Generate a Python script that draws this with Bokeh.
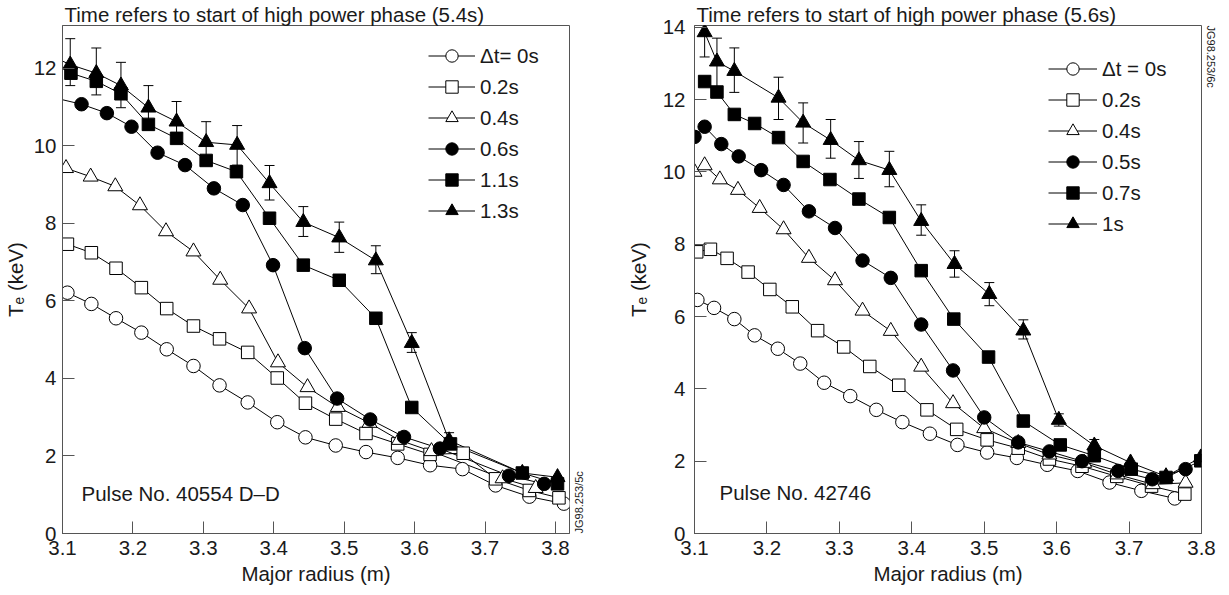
import math
from bokeh.plotting import figure
from bokeh.models import FixedTicker, Label, Legend, LegendItem, Range1d, LinearAxis
from bokeh.layouts import row
from bokeh.embed import file_html
from bokeh.resources import INLINE

nan = float("nan")

# ---------------- data: left panel (Pulse No. 40554 D-D) ----------------
L_LABELS = ["Δt= 0s", "0.2s", "0.4s", "0.6s", "1.1s", "1.3s"]
L_X_00 = [3.107, 3.141, 3.176, 3.212, 3.248, 3.286, 3.323, 3.363, 3.405, 3.445, 3.488, 3.531, 3.576, 3.622, 3.668, 3.715, 3.763, 3.812]
L_Y_00 = [6.21, 5.92, 5.55, 5.18, 4.75, 4.32, 3.82, 3.38, 2.87, 2.48, 2.27, 2.10, 1.95, 1.76, 1.66, 1.24, 0.95, 0.77]
L_X_02 = [3.107, 3.141, 3.176, 3.212, 3.248, 3.286, 3.323, 3.363, 3.405, 3.445, 3.488, 3.531, 3.576, 3.622, 3.669, 3.715, 3.763, 3.805]
L_Y_02 = [7.46, 7.24, 6.84, 6.34, 5.80, 5.35, 5.02, 4.67, 4.01, 3.36, 2.95, 2.58, 2.31, 2.04, 2.07, 1.41, 1.11, 0.92]
L_X_04 = [3.105, 3.140, 3.175, 3.210, 3.247, 3.286, 3.324, 3.365, 3.406, 3.448, 3.491, 3.536, 3.578, 3.624, 3.725, 3.772]
L_Y_04 = [9.42, 9.20, 8.95, 8.46, 7.79, 7.27, 6.54, 5.80, 4.41, 3.77, 3.26, 2.85, 2.41, 2.12, 1.42, 1.17]
L_X_06 = [3.085, 3.127, 3.163, 3.198, 3.235, 3.274, 3.315, 3.356, 3.399, 3.444, 3.490, 3.537, 3.585, 3.636, 3.734, 3.784]
L_Y_06 = [11.25, 11.07, 10.84, 10.49, 9.82, 9.50, 8.90, 8.47, 6.92, 4.78, 3.48, 2.94, 2.49, 2.19, 1.49, 1.28]
L_X_11 = [3.080, 3.112, 3.148, 3.183, 3.222, 3.262, 3.304, 3.347, 3.394, 3.442, 3.493, 3.545, 3.596, 3.651, 3.753, 3.803]
L_Y_11 = [12.20, 11.87, 11.66, 11.34, 10.55, 10.19, 9.62, 9.33, 8.13, 6.92, 6.53, 5.55, 3.25, 2.31, 1.56, 1.28]
L_X_13 = [3.080, 3.111, 3.148, 3.183, 3.222, 3.262, 3.304, 3.348, 3.394, 3.442, 3.493, 3.545, 3.596, 3.649, 3.753, 3.803]
L_Y_13 = [12.35, 12.09, 11.87, 11.55, 10.98, 10.62, 10.09, 10.02, 9.03, 8.03, 7.63, 7.04, 4.91, 2.40, 1.56, 1.45]
L_ERR_HI = [nan, 12.76, 12.52, 12.15, 11.55, 11.14, 10.62, 10.52, 9.49, 8.43, 8.03, 7.42, 5.18, 2.60, nan, nan]
L_ERR_LO = [nan, 11.55, 11.31, 10.98, 10.42, 10.10, 9.60, 9.50, 8.60, 7.66, 7.25, 6.70, 4.67, 2.20, nan, nan]

# ---------------- data: right panel (Pulse No. 42746) ----------------
R_LABELS = ["Δt = 0s", "0.2s", "0.4s", "0.5s", "0.7s", "1s"]
R_X_00 = [3.104, 3.127, 3.155, 3.183, 3.215, 3.246, 3.279, 3.315, 3.351, 3.387, 3.425, 3.463, 3.504, 3.545, 3.587, 3.629, 3.673, 3.717, 3.763]
R_Y_00 = [6.46, 6.24, 5.93, 5.48, 5.11, 4.70, 4.17, 3.80, 3.42, 3.08, 2.76, 2.45, 2.24, 2.09, 1.90, 1.73, 1.41, 1.18, 0.97]
R_X_02 = [3.103, 3.122, 3.145, 3.174, 3.204, 3.235, 3.270, 3.306, 3.342, 3.382, 3.421, 3.462, 3.504, 3.547, 3.590, 3.635, 3.683, 3.731, 3.777]
R_Y_02 = [7.79, 7.86, 7.61, 7.23, 6.75, 6.27, 5.61, 5.16, 4.62, 4.10, 3.42, 2.88, 2.59, 2.36, 2.06, 1.86, 1.58, 1.31, 1.09]
R_X_04 = [3.100, 3.114, 3.135, 3.160, 3.190, 3.223, 3.258, 3.294, 3.332, 3.371, 3.413, 3.457, 3.500, 3.547, 3.590, 3.638, 3.684, 3.733, 3.778]
R_Y_04 = [10.00, 10.18, 9.79, 9.50, 9.00, 8.41, 7.62, 7.00, 6.16, 5.60, 4.61, 3.60, 2.91, 2.50, 2.18, 1.95, 1.63, 1.36, 1.40]
R_X_05 = [3.100, 3.114, 3.137, 3.161, 3.192, 3.223, 3.258, 3.294, 3.332, 3.371, 3.413, 3.457, 3.500, 3.547, 3.590, 3.635, 3.685, 3.732, 3.778]
R_Y_05 = [10.97, 11.25, 10.77, 10.43, 10.05, 9.64, 8.91, 8.45, 7.55, 7.07, 5.78, 4.51, 3.21, 2.52, 2.27, 2.00, 1.73, 1.50, 1.78]
R_X_07 = [3.114, 3.131, 3.155, 3.183, 3.216, 3.250, 3.287, 3.327, 3.369, 3.413, 3.458, 3.506, 3.554, 3.605, 3.652, 3.703, 3.751, 3.799]
R_Y_07 = [12.50, 12.21, 11.59, 11.34, 10.95, 10.29, 9.79, 9.25, 8.74, 7.27, 5.93, 4.88, 3.11, 2.45, 2.15, 1.78, 1.55, 2.01]
R_X_10 = [3.114, 3.131, 3.155, 3.216, 3.250, 3.288, 3.327, 3.369, 3.413, 3.459, 3.507, 3.554, 3.603, 3.652, 3.702, 3.751, 3.799]
R_Y_10 = [13.86, 13.05, 12.79, 12.05, 11.36, 10.88, 10.32, 10.05, 8.64, 7.45, 6.62, 5.61, 3.14, 2.43, 1.96, 1.58, 2.10]
R_ERR_HI = [14.54, 13.70, 13.43, 12.62, 11.91, 11.45, 10.84, 10.57, 9.09, 7.82, 6.94, 5.91, 3.31, 2.60, nan, nan, nan]
R_ERR_LO = [13.18, 12.25, 12.20, 11.45, 10.80, 10.38, 9.82, 9.59, 8.25, 7.09, 6.30, 5.38, 2.97, 2.26, nan, nan, nan]

X_TICKS = [3.1, 3.2, 3.3, 3.4, 3.5, 3.6, 3.7, 3.8]
L_Y_TICKS = [0, 2, 4, 6, 8, 10, 12]
R_Y_TICKS = [0, 2, 4, 6, 8, 10, 12, 14]

MARKERS = [("circle", False), ("square", False), ("triangle", False),
           ("circle", True), ("square", True), ("triangle", True)]

FONT = "Liberation Sans"
FS = "20.5px"
TXT = "#1a1a1a"
FRAME = "#555555"
MSIZE = {"circle": 13.5, "square": 12.5, "triangle": 15}


def build(title, labels, series, err, y_end, x_end, pulse, pulse_xy, tag, tag_align,
          tag_angle, legend_xy, glyph_w, y_standoff, ylab_standoff, min_left,
          min_right, yticks):
    p = figure(frame_width=507, frame_height=508,
               x_range=Range1d(3.1, x_end), y_range=Range1d(0, y_end),
               output_backend="svg", toolbar_location=None,
               min_border_left=min_left, min_border_right=min_right,
               min_border_top=22, min_border_bottom=56,
               background_fill_color="white", border_fill_color="white")
    p.title.text = title
    p.title.text_font = FONT
    p.title.text_font_size = FS
    p.title.text_font_style = "normal"
    p.title.text_color = TXT
    p.title.offset = 2
    p.title.standoff = 0
    p.outline_line_color = FRAME
    p.outline_line_width = 1
    p.xgrid.visible = False
    p.ygrid.visible = False

    for ax in (p.xaxis[0], p.yaxis[0]):
        ax.axis_line_color = FRAME
        ax.major_tick_line_color = FRAME
        ax.major_tick_in = 12
        ax.major_tick_out = 0
        ax.minor_tick_line_color = None
        ax.major_label_text_font = FONT
        ax.major_label_text_font_size = FS
        ax.major_label_text_color = TXT
        ax.axis_label_text_font = FONT
        ax.axis_label_text_font_size = FS
        ax.axis_label_text_font_style = "normal"
        ax.axis_label_text_color = TXT
    p.xaxis.ticker = FixedTicker(ticks=X_TICKS)
    p.yaxis.ticker = FixedTicker(ticks=yticks)
    p.xaxis.axis_label = "Major radius (m)"
    p.yaxis.axis_label = "Tₑ (keV)"
    p.xaxis.major_label_standoff = 7
    p.xaxis.axis_label_standoff = 4
    p.yaxis.major_label_standoff = y_standoff
    p.yaxis.axis_label_standoff = ylab_standoff

    # small job tag on the right of the frame, as the label of an empty axis
    tag_axis = LinearAxis(ticker=FixedTicker(ticks=[]), axis_label=tag,
                          axis_line_color=None, major_tick_line_color=None,
                          minor_tick_line_color=None, major_label_standoff=0,
                          axis_label_standoff=9, axis_label_text_font=FONT,
                          axis_label_text_font_size="11px",
                          axis_label_text_font_style="normal",
                          axis_label_text_color=TXT)
    props = tag_axis.properties()
    if "axis_label_orientation" in props:
        tag_axis.axis_label_orientation = tag_angle
    if "axis_label_align" in props:
        tag_axis.axis_label_align = tag_align
    p.add_layout(tag_axis, "right")

    line_rs = []
    for xs, ys in series:
        line_rs.append(p.line(xs, ys, line_color="black", line_width=1))

    ex, ehi, elo = err
    pts = [(x, h, l) for x, h, l in zip(ex, ehi, elo) if not (math.isnan(h) or math.isnan(l))]
    bx = [t[0] for t in pts]
    bh = [t[1] for t in pts]
    bl = [t[2] for t in pts]
    p.segment(bx, bl, bx, bh, line_color="black", line_width=1)
    p.scatter(bx + bx, bh + bl, marker="dash", size=10, line_color="black", line_width=1)

    items = []
    for (xs, ys), (mk, filled), lab, lr in zip(series, MARKERS, labels, line_rs):
        sr = p.scatter(xs, ys, marker=mk, size=MSIZE[mk],
                       fill_color="black" if filled else "white",
                       line_color="black", line_width=1)
        items.append(LegendItem(label=lab, renderers=[lr, sr]))

    leg = Legend(items=items, location=legend_xy, glyph_width=glyph_w, glyph_height=31,
                 spacing=0, padding=0, margin=0, label_standoff=5,
                 border_line_color=None, background_fill_alpha=0,
                 label_text_font=FONT, label_text_font_size=FS, label_text_color=TXT)
    p.add_layout(leg)

    p.add_layout(Label(x=pulse_xy[0], y=pulse_xy[1], x_units="screen", y_units="screen",
                       text=pulse, text_font=FONT, text_font_size=FS,
                       text_baseline="middle", text_color=TXT))
    return p


left = build("Time refers to start of high power phase (5.4s)", L_LABELS,
             [(L_X_00, L_Y_00), (L_X_02, L_Y_02), (L_X_04, L_Y_04),
              (L_X_06, L_Y_06), (L_X_11, L_Y_11), (L_X_13, L_Y_13)],
             (L_X_13, L_ERR_HI, L_ERR_LO), 13.1, 3.82,
             "Pulse No. 40554 D–D", (19, 40), "JG98.253/5c", "start", math.pi / 2,
             (366, 307), 47, 6, 4, 55, 40, L_Y_TICKS)

right = build("Time refers to start of high power phase (5.6s)", R_LABELS,
              [(R_X_00, R_Y_00), (R_X_02, R_Y_02), (R_X_04, R_Y_04),
               (R_X_05, R_Y_05), (R_X_07, R_Y_07), (R_X_10, R_Y_10)],
              (R_X_10, R_ERR_HI, R_ERR_LO), 14.05, 3.8,
              "Pulse No. 42746", (25, 41), "JG98.253/6c", "end", -math.pi / 2,
              (354, 294), 49, 9, 10, 85, 18, R_Y_TICKS)

layout = row(left, right)
open("out.html", "w").write(file_html(layout, INLINE))
